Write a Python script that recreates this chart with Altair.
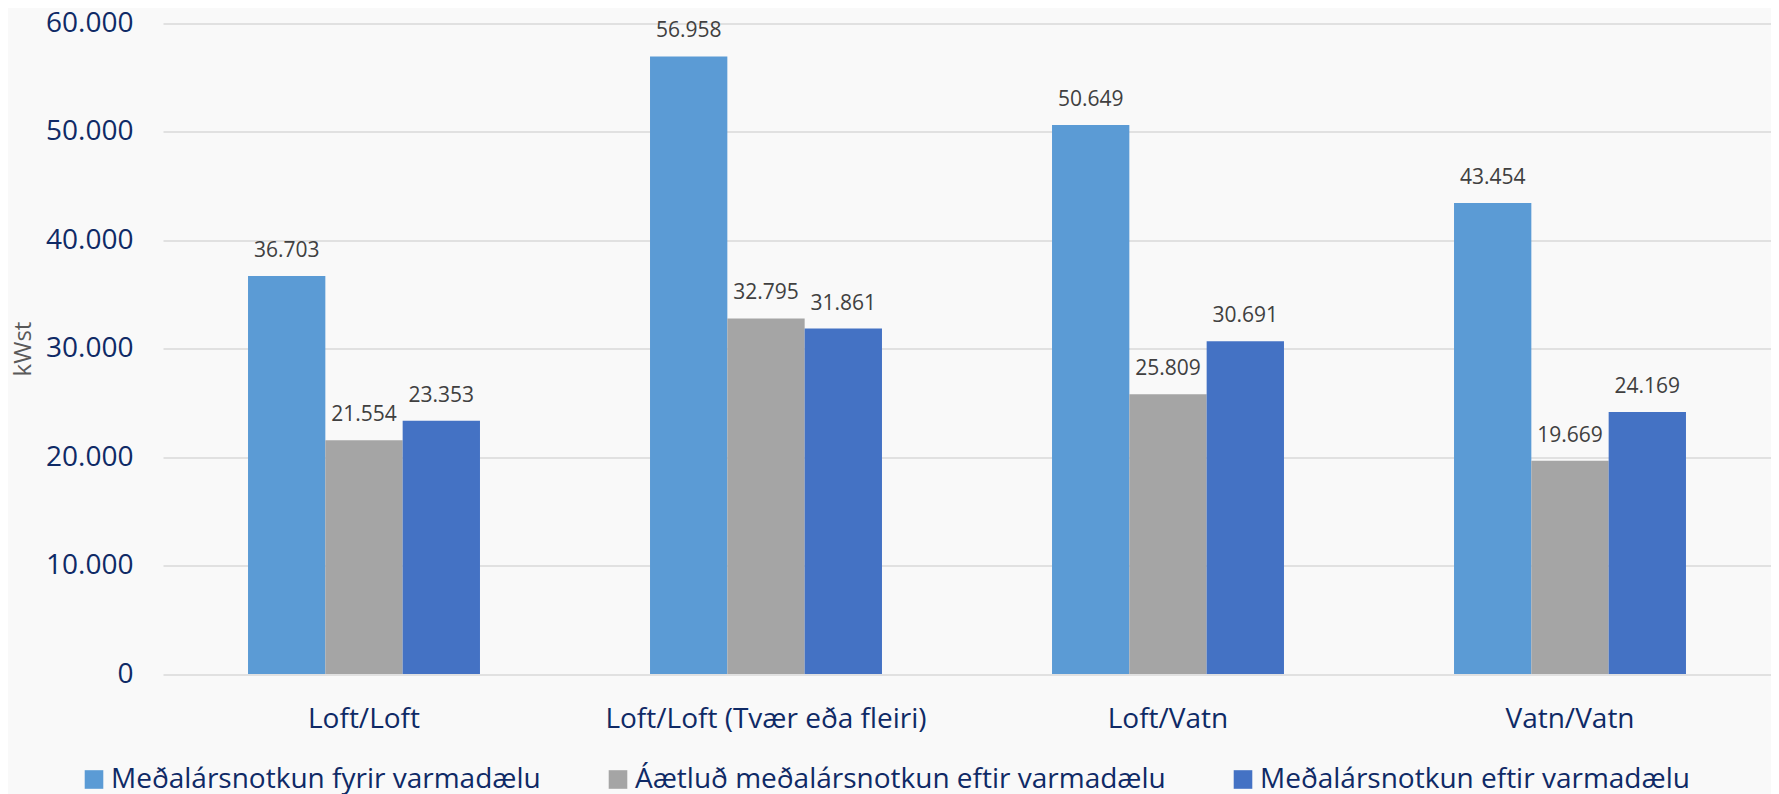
import altair as alt
import pandas as pd

categories = ["Loft/Loft", "Loft/Loft (Tvær eða fleiri)", "Loft/Vatn", "Vatn/Vatn"]
series = [
    "Meðalársnotkun fyrir varmadælu",
    "Áætluð meðalársnotkun eftir varmadælu",
    "Meðalársnotkun eftir varmadælu",
]
before = [36703, 56958, 50649, 43454]
estimated_after = [21554, 32795, 25809, 19669]
after = [23353, 31861, 30691, 24169]
colors = ["#5B9BD5", "#A5A5A5", "#4472C4"]
y_ticks = [0, 10000, 20000, 30000, 40000, 50000, 60000]

rows = []
for s, vals in zip(series, [before, estimated_after, after]):
    for c, v in zip(categories, vals):
        rows.append({"Flokkur": c, "Röð": s, "kWst": v})
df = pd.DataFrame(rows)

NAVY = "#0F2A66"
FONT = "Open Sans"

base = alt.Chart(df).encode(
    x=alt.X(
        "Flokkur:N",
        sort=categories,
        scale=alt.Scale(paddingInner=0.423, paddingOuter=0.2115),
        axis=alt.Axis(
            title=None,
            labelAngle=0,
            labelFont=FONT,
            labelFontSize=28,
            labelColor=NAVY,
            labelBaseline="alphabetic",
            labelPadding=53,
            labelLimit=1000,
            ticks=False,
            tickSize=0,
            domain=False,
            grid=False,
        ),
    ),
    xOffset=alt.XOffset("Röð:N", sort=series, scale=alt.Scale(paddingInner=0, paddingOuter=0)),
    y=alt.Y(
        "kWst:Q",
        scale=alt.Scale(domain=[0, 60000], nice=False),
        axis=alt.Axis(
            title="kWst",
            titleFont=FONT,
            titleFontSize=24,
            titleFontWeight="normal",
            titleColor="#595959",
            titleAngle=-90,
            titleX=-133,
            titleY=325,
            titleAlign="center",
            titleBaseline="alphabetic",
            values=y_ticks,
            labelExpr="replace(format(datum.value, ',d'), ',', '.')",
            labelFont=FONT,
            labelFontSize=28,
            labelColor=NAVY,
            labelPadding=30,
            ticks=False,
            tickSize=0,
            domain=False,
            grid=True,
            gridColor="#D9D9D9",
            gridWidth=1.5,
        ),
    ),
)

bars = base.mark_bar().encode(
    color=alt.Color(
        "Röð:N",
        sort=series,
        scale=alt.Scale(domain=series, range=colors),
        legend=alt.Legend(
            title=None,
            orient="none",
            legendX=-83,
            legendY=742,
            direction="horizontal",
            symbolType="square",
            symbolSize=346,
            symbolStrokeWidth=0,
            labelFont=FONT,
            labelFontSize=28,
            labelColor=NAVY,
            labelOffset=3,
            columnPadding=63,
            padding=0,
            labelLimit=800,
        ),
    )
)

labels = base.transform_calculate(
    lbl="replace(format(datum.kWst, ',d'), ',', '.')"
).mark_text(
    baseline="alphabetic", dy=-19, font=FONT, fontSize=21, color="#404040"
).encode(text="lbl:N")

chart = (
    alt.layer(bars, labels)
    .properties(
        width=1608,
        height=650.5,
        autosize=alt.AutoSizeParams(type="none"),
        padding={"left": 155, "top": 15.5, "right": 0, "bottom": 120},
        background="#F9F9F9",
    )
    .configure_view(stroke=None)
)

chart.save("out.html", embed_options={"renderer": "svg", "actions": False})
